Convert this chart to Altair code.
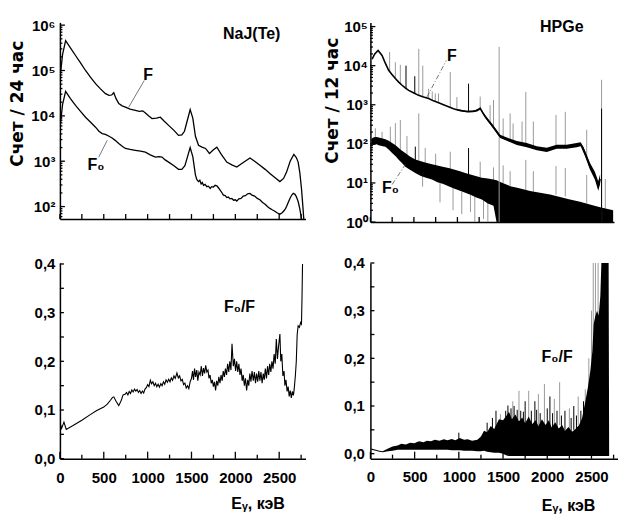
import altair as alt
import pandas as pd

FN = "Liberation Sans, Arial, sans-serif"
FT = "DejaVu Sans, Liberation Sans, sans-serif"
BLACK = "#000000"
GRAY = "#9a9a9a"

# ---------------- NaJ(Te) spectra (keV, counts / 24 h) ----------------
naj_f_e = [8, 30, 65, 120, 178, 235, 292, 350, 406, 460, 519, 560, 590, 614, 640, 671, 710, 747, 800, 860,
           905, 944, 975, 1010, 1050, 1100, 1145, 1190, 1239, 1300, 1352, 1390, 1420, 1450, 1485, 1515, 1545,
           1580, 1620, 1660, 1705, 1750, 1789, 1840, 1902, 1960, 2016, 2090, 2167, 2220, 2280, 2340, 2394, 2450,
           2508, 2550, 2584, 2625, 2667, 2695, 2716, 2735, 2754, 2770, 2785]
naj_f = [89000, 224000, 457000, 316000, 214000, 148000, 100000, 70800, 51300, 39800, 30900, 28200, 28800, 32400,
         24000, 18600, 16600, 15500, 14100, 13200, 12600, 12900, 11500, 10000, 8710, 8910, 9330, 7590, 6170, 4790,
         3720, 3800, 4570, 7590, 13800, 8910, 3550, 2240, 2040, 1910, 1480, 1780, 2040, 1410, 955, 832, 741, 933,
         1175, 1000, 813, 661, 537, 437, 355, 417, 575, 1000, 1410, 1200, 955, 562, 251, 100, 40]
naj_f0_e = [8, 30, 65, 120, 178, 235, 292, 350, 406, 445, 482, 519, 560, 595, 630, 671, 710, 747, 800, 860, 920,
            974, 1030, 1088, 1130, 1164, 1200, 1239, 1300, 1352, 1390, 1425, 1455, 1485, 1515, 1545, 1560, 1580,
            1595, 1610, 1623, 1637, 1655, 1675, 1693, 1713, 1730, 1750, 1770, 1789, 1805, 1825, 1845, 1864, 1885,
            1902, 1920, 1940, 1960, 1980, 2000, 2016, 2040, 2065, 2090, 2115, 2140, 2167, 2190, 2220, 2250, 2280,
            2310, 2340, 2365, 2394, 2420, 2450, 2480, 2508, 2530, 2550, 2570, 2584, 2605, 2625, 2645, 2660, 2680,
            2695, 2716, 2735, 2754, 2770]
naj_f0 = [7080, 17800, 34700, 24000, 17000, 12600, 9330, 7240, 5620, 4570, 4070, 3890, 3550, 3240, 2880, 2450,
          2140, 1910, 1820, 1740, 1660, 1580, 1380, 1230, 1260, 1230, 1070, 955, 794, 661, 661, 794, 1260, 2000,
          1260, 501, 398, 355, 380, 316, 339, 295, 309, 275, 282, 251, 275, 269, 295, 288, 263, 234, 204, 178,
          174, 158, 162, 148, 151, 138, 141, 132, 148, 151, 170, 174, 191, 195, 178, 170, 151, 141, 123, 112, 100,
          91, 85, 79, 72, 68, 72, 79, 89, 100, 126, 155, 182, 195, 186, 166, 129, 89, 55, 32]

# ---------------- NaJ(Te) ratio F0/F (keV, ratio) ----------------
naj_ratio = [
    (0, .075), (19, .062), (46, .075), (72, .060), (150, .068), (250, .079), (350, .091), (420, .099),
    (500, .106), (540, .112), (576, .120), (600, .126), (614, .127), (640, .118), (671, .109), (700, .120),
    (720, .131), (747, .133), (760, .136), (775, .131), (790, .138), (805, .134), (820, .141), (835, .137),
    (850, .143), (865, .139), (880, .142), (895, .136), (910, .140), (925, .134), (940, .139), (955, .135),
    (970, .143), (985, .146), (1000, .152), (1015, .148), (1031, .161), (1045, .154), (1060, .158),
    (1075, .150), (1090, .155), (1105, .148), (1120, .153), (1135, .147), (1150, .154), (1165, .150),
    (1180, .158), (1195, .153), (1210, .162), (1225, .157), (1240, .163), (1255, .158), (1270, .166),
    (1285, .161), (1300, .170), (1315, .165), (1334, .176), (1350, .166), (1365, .170), (1380, .160),
    (1395, .163), (1410, .152), (1425, .155), (1440, .145), (1455, .150), (1470, .144), (1485, .158),
    (1500, .165), (1512, .180), (1523, .162), (1535, .185), (1547, .168), (1560, .182), (1572, .160),
    (1585, .178), (1599, .172), (1612, .190), (1625, .170), (1637, .186), (1650, .175), (1662, .192),
    (1675, .178), (1688, .182), (1700, .165), (1712, .172), (1725, .155), (1737, .162), (1750, .148),
    (1762, .158), (1775, .140), (1787, .160), (1800, .150), (1812, .168), (1825, .155), (1837, .172),
    (1850, .160), (1862, .180), (1875, .168), (1887, .185), (1900, .172), (1912, .195), (1925, .178),
    (1937, .200), (1950, .182), (1962, .236), (1977, .190), (1990, .205), (2003, .180), (2015, .200),
    (2028, .178), (2040, .195), (2053, .172), (2065, .185), (2078, .160), (2090, .172), (2103, .150),
    (2115, .165), (2129, .140), (2141, .162), (2153, .150), (2165, .175), (2178, .158), (2190, .180),
    (2205, .160), (2217, .178), (2230, .155), (2242, .175), (2255, .158), (2267, .180), (2280, .160),
    (2292, .178), (2305, .155), (2318, .175), (2330, .162), (2342, .185), (2355, .165), (2367, .190),
    (2380, .172), (2392, .195), (2405, .178), (2417, .200), (2430, .185), (2442, .215), (2455, .195),
    (2467, .246), (2480, .205), (2492, .230), (2508, .256), (2518, .200), (2530, .215), (2542, .170),
    (2555, .180), (2565, .150), (2577, .162), (2590, .138), (2602, .148), (2614, .128), (2626, .140),
    (2638, .125), (2650, .138), (2662, .130), (2672, .145), (2684, .170), (2695, .200), (2705, .255),
    (2716, .273), (2730, .270), (2745, .280), (2754, .277), (2760, .330), (2766, .400)]

# ---------------- HPGe spectra (keV, counts / 12 h) ----------------
hp_f = [(19, 14800), (50, 20000), (88, 24500), (134, 18200), (170, 11750), (210, 7590), (250, 5890),
        (287, 4680), (325, 3800), (364, 3160), (400, 2690), (440, 2340), (500, 2000), (554, 1740), (610, 1580),
        (669, 1450), (725, 1260), (784, 1120), (840, 1000), (898, 891), (955, 794), (1013, 724), (1070, 692),
        (1128, 661), (1180, 676), (1224, 708), (1250, 759), (1262, 813), (1290, 631), (1319, 501), (1360, 380),
        (1396, 302), (1430, 240), (1453, 204), (1470, 178), (1491, 155), (1530, 141), (1568, 132), (1630, 117),
        (1683, 105), (1740, 98), (1797, 93), (1855, 85), (1912, 78), (1970, 74), (2027, 71), (2085, 78),
        (2141, 85), (2200, 83), (2256, 85), (2310, 89), (2371, 93), (2417, 98), (2440, 83), (2466, 58),
        (2495, 40), (2523, 27), (2550, 20), (2581, 15), (2605, 10.5), (2619, 8.3), (2630, 10), (2640, 12.6)]
# noisy envelope of F (keV, low, high)
hp_f_band = [(1000, 708, 776), (1100, 646, 708), (1200, 661, 724), (1262, 776, 851), (1319, 468, 537),
             (1396, 275, 331), (1453, 185, 224), (1491, 141, 170), (1568, 120, 145), (1683, 93, 118),
             (1797, 82, 105), (1912, 69, 87), (2027, 62, 80), (2141, 75, 95), (2256, 75, 95), (2371, 82, 105),
             (2417, 87, 110), (2466, 49, 68), (2523, 22, 33), (2581, 12, 19), (2619, 6.3, 11), (2640, 9.5, 16.6)]
# gamma lines on F (keV, from, to, shade)
hp_f_spikes = [(221, 7000, 22400, 'g'), (287, 4680, 12300, 'g'), (344, 3500, 10500, 'g'), (409, 2600, 10000, 'k'),
               (510, 1950, 5370, 'k'), (556, 1740, 26900, 'g'), (602, 1600, 10000, 'g'), (669, 1450, 2570, 'g'),
               (711, 1300, 2190, 'g'), (746, 1200, 1950, 'g'), (783, 1120, 1950, 'g'), (918, 860, 6920, 'g'),
               (994, 750, 1580, 'g'), (1128, 661, 3470, 'k'), (1262, 813, 1620, 'g'), (1376, 350, 977, 'g'),
               (1415, 270, 1320, 'g'), (1480, 1, 30200, 'g'), (1526, 141, 447, 'g'), (1606, 122, 603, 'g'),
               (1640, 115, 331, 'g'), (1743, 98, 372, 'g'), (1786, 93, 2140, 'g'), (1873, 83, 372, 'g'),
               (2133, 84, 550, 'g'), (2240, 85, 661, 'g'), (2486, 45, 229, 'g'), (2657, 1, 4370, 'g'),
               (2657, 1, 800, 'k')]
# noisy band of F0 (keV, low, high)
hp_f0_band = [(10, 95, 135), (40, 93, 148), (70, 98, 150), (96, 92, 145), (130, 88, 140), (172, 85, 132),
              (210, 72, 120), (249, 58, 105), (290, 48, 92), (325, 39, 78), (360, 33, 68), (401, 26, 58),
              (450, 22, 48), (516, 18, 40), (580, 15, 36), (640, 13.5, 33), (708, 12.3, 30), (770, 10.5, 28),
              (830, 9.5, 26), (898, 8.3, 24), (960, 7.2, 22), (1030, 6.3, 20), (1090, 5.6, 18), (1150, 5, 16.5),
              (1210, 4.3, 15), (1281, 3.8, 13.5), (1350, 3.0, 13), (1415, 2.6, 12.3), (1450, 1, 11.7),
              (1500, 1, 10.5), (1606, 1, 8.3), (1700, 1, 7.4), (1835, 1, 6.2), (1950, 1, 5.6), (2065, 1, 5.1),
              (2180, 1, 4.4), (2294, 1, 3.8), (2410, 1, 3.3), (2523, 1, 2.8), (2640, 1, 2.4), (2753, 1, 2.1),
              (2790, 1, 2.0)]
hp_f0_spikes = [(57, 130, 251, 'g'), (134, 130, 204, 'g'), (229, 100, 275, 'g'), (287, 80, 339, 'g'),
                (344, 65, 407, 'g'), (420, 50, 158, 'g'), (516, 35, 85, 'k'), (556, 35, 603, 'g'),
                (630, 30, 79, 'g'), (750, 26, 56, 'g'), (918, 22, 63, 'g'), (1128, 16, 78, 'k'),
                (1262, 14, 35, 'g'), (1415, 11, 25, 'g'), (1526, 10, 28, 'g'), (1606, 8, 20, 'g'),
                (1786, 6.5, 39, 'g'), (1873, 6, 20, 'g'), (2133, 5, 27, 'g'), (2240, 4.5, 24, 'g'),
                (2486, 3, 16, 'g'), (2700, 2, 12.6, 'g'), (600, 8, 15, 'g'), (800, 3.2, 10, 'g'),
                (950, 2, 8, 'g'), (1050, 1.6, 6, 'g'), (1150, 1.8, 5, 'g'), (1200, 1, 4.5, 'g'),
                (1300, 1.2, 4, 'g'), (1350, 1, 3.2, 'g')]

# ---------------- HPGe ratio F0/F (keV, low, high) ----------------
hp_ratio_band = [
    (10, .008, .011), (60, .006, .008), (101, .004, .006), (139, .003, .005), (200, .005, .011),
    (250, .006, .015), (308, .008, .017), (350, .008, .021), (400, .008, .019), (450, .008, .023),
    (496, .008, .022), (550, .008, .026), (600, .008, .024), (640, .008, .027), (684, .008, .026),
    (730, .008, .029), (780, .008, .027), (830, .008, .030), (872, .008, .028), (920, .007, .031),
    (960, .007, .028), (1010, .007, .033), (1060, .006, .029), (1100, .006, .030), (1150, .006, .027),
    (1210, .005, .029), (1250, .005, .036), (1285, .006, .048), (1320, .004, .045), (1360, .003, .058),
    (1400, .002, .052), (1454, .002, .072), (1500, .0, .070), (1540, -.004, .080), (1567, -.005, .088),
    (1600, -.005, .072), (1640, -.005, .082), (1680, -.005, .068), (1717, -.005, .076), (1750, -.005, .064),
    (1790, -.005, .078), (1830, -.005, .062), (1868, -.005, .070), (1900, -.005, .058), (1940, -.005, .072),
    (1980, -.005, .060), (2018, -.005, .070), (2050, -.005, .055), (2090, -.005, .066), (2130, -.005, .053),
    (2168, -.005, .060), (2200, -.005, .048), (2240, -.005, .056), (2280, -.005, .046), (2319, -.005, .052),
    (2360, -.005, .060), (2394, -.005, .075), (2431, -.005, .110), (2460, -.005, .140), (2488, -.005, .175),
    (2510, -.005, .215), (2525, -.005, .272), (2545, -.005, .290), (2563, -.005, .300), (2582, -.005, .290),
    (2600, -.005, .330), (2612, -.005, .400), (2694, -.005, .400), (2700, -.005, -.005)]
hp_ratio_spikes = [(1000, .02, .044, 'k'), (1320, .03, .065, 'k'), (1380, .04, .075, 'k'), (1420, .05, .09, 'k'),
                   (1470, .06, .083, 'g'), (1530, .06, .09, 'k'), (1555, .05, .101, 'k'), (1590, .05, .095, 'k'),
                   (1610, .07, .11, 'g'), (1625, .05, .10, 'k'), (1660, .05, .092, 'k'), (1680, .07, .132, 'g'),
                   (1700, .05, .09, 'k'), (1730, .05, .088, 'k'), (1750, .06, .11, 'k'), (1790, .07, .132, 'g'),
                   (1820, .05, .09, 'k'), (1860, .06, .11, 'k'), (1880, .05, .092, 'k'), (1900, .06, .125, 'g'),
                   (1920, .05, .085, 'k'), (1968, .06, .146, 'g'), (2000, .05, .095, 'k'), (2030, .06, .12, 'k'),
                   (2060, .05, .085, 'k'), (2080, .06, .115, 'g'), (2110, .05, .09, 'k'), (2140, .06, .150, 'g'),
                   (2160, .04, .08, 'k'), (2200, .05, .09, 'k'), (2250, .05, .095, 'g'), (2270, .04, .075, 'k'),
                   (2300, .05, .10, 'k'), (2330, .04, .08, 'k'), (2350, .06, .12, 'g'), (2380, .05, .09, 'k'),
                   (2410, .06, .11, 'k'), (2430, .09, .135, 'g'), (2470, .12, .20, 'g'), (2500, .15, .30, 'g'),
                   (2520, .2, .4, 'g'), (2545, .25, .4, 'g'), (2575, .25, .4, 'g')]

# ---------------- ticks ----------------
e_ticks_all = [0, 250, 500, 750, 1000, 1250, 1500, 1750, 2000, 2250, 2500, 2750]
e_labels = [0, 500, 1000, 1500, 2000, 2500]
e_ticks_minor = [250, 750, 1250, 1750, 2250, 2750]
naj_decades = [100, 1000, 10000, 100000, 1000000]
naj_minor = [60, 70, 80, 90, 200, 300, 400, 500, 600, 700, 800, 900, 2000, 3000, 4000, 5000, 6000, 7000, 8000,
             9000, 20000, 30000, 40000, 50000, 60000, 70000, 80000, 90000, 200000, 300000, 400000, 500000,
             600000, 700000, 800000, 900000]
hp_decades = [1, 10, 100, 1000, 10000, 100000]
hp_minor = [2, 3, 4, 5, 6, 7, 8, 9, 20, 30, 40, 50, 60, 70, 80, 90, 200, 300, 400, 500, 600, 700, 800, 900,
            2000, 3000, 4000, 5000, 6000, 7000, 8000, 9000, 20000, 30000, 40000, 50000, 60000, 70000, 80000, 90000]
ratio_labels = [0, 0.1, 0.2, 0.3, 0.4]
ratio_ticks = [0, 0.05, 0.1, 0.15, 0.2, 0.25, 0.3, 0.35, 0.4]

# ---------------- annotations (data coordinates) ----------------
naj_notes = [(951, 77600, 'F'), (315, 813, 'F₀'), (1860, 645000, 'NaJ(Te)')]
naj_leaders = [(0, 784, 15500), (0, 962, 60300), (1, 539, 2880), (1, 443, 1230)]
hp_notes = [(880, 17400, 'F'), (134, 7.5, 'F₀'), (1950, 97700, 'HPGe')]
hp_leaders = [(0, 650, 1585), (0, 872, 13500), (1, 401, 29.5), (1, 249, 9.1)]
naj_ratio_note = [(1870, 0.312, 'F₀/F')]
hp_ratio_note = [(1936, 0.202, 'F₀/F')]

SUP = ("'10' + ['\u2070','\u00b9','\u00b2','\u00b3','\u2074','\u2075','\u2076']"
       "[round(log(datum.value)/LN10)]")
COMMA = "replace(datum.label, '.', ',')"


def frame(rows, cols):
    return pd.DataFrame(rows, columns=cols)


def ax_main(orient, **kw):
    base = dict(orient=orient, ticks=False, tickSize=0, domain=True, grid=False)
    base.update(kw)
    return alt.Axis(**base)


xs = alt.Scale(domain=[0, 2800], nice=False, zero=False)


def xticks(vals, h, size):
    # inward ticks on the bottom axis, placed by the x scale
    return alt.Chart(pd.DataFrame({'t': vals})).mark_rule(color=BLACK, strokeWidth=1.3).encode(
        x=alt.X('t:Q', scale=xs, axis=None), y=alt.value(h), y2=alt.value(h - size))


def yticks(vals, ys, size):
    # inward ticks on the left axis, placed by the y scale
    return alt.Chart(pd.DataFrame({'t': vals})).mark_rule(color=BLACK, strokeWidth=1.3).encode(
        y=alt.Y('t:Q', scale=ys, axis=None), x=alt.value(0), x2=alt.value(size))


def panel(layers, w, h):
    return alt.layer(*layers).resolve_axis(x='independent', y='independent').properties(width=w, height=h)


shade = alt.Color('s:N', scale=alt.Scale(domain=['k', 'g'], range=[BLACK, GRAY]), legend=None)

text_kw = dict(align='left', baseline='middle', font=FN, fontSize=16, fontWeight='bold', color=BLACK)
ytitle_kw = dict(titleAngle=270, titleAlign='center', titleBaseline='middle', titleFont=FT,
                 titleFontSize=17, titleFontWeight='bold', titleColor=BLACK)
xtitle_kw = dict(titleAlign='center', titleBaseline='middle', titleFont=FN, titleFontSize=16,
                 titleFontWeight='bold', titleColor=BLACK)

# ======================= top-left: NaJ(Te) spectra =======================
H_TL = 197
ys_tl = alt.Scale(type='log', domain=[53, 1150000], nice=False)
tl_f = alt.Chart(pd.DataFrame({'e': naj_f_e, 'c': naj_f})).mark_line(
    color=BLACK, strokeWidth=1.3, clip=True).encode(
    x=alt.X('e:Q', scale=xs, axis=ax_main('bottom', labels=False, title=None)),
    y=alt.Y('c:Q', scale=ys_tl, axis=ax_main('left', values=naj_decades, labelExpr=SUP, labelPadding=5,
                                            title='Счет / 24 час', titleX=-42, titleY=81, **ytitle_kw)))
tl_f0 = alt.Chart(pd.DataFrame({'e': naj_f0_e, 'c': naj_f0})).mark_line(
    color=BLACK, strokeWidth=1.3, clip=True).encode(
    x=alt.X('e:Q', scale=xs, axis=None), y=alt.Y('c:Q', scale=ys_tl, axis=None))
tl_lead = alt.Chart(frame(naj_leaders, ['id', 'e', 'c'])).mark_line(
    color='#555555', strokeWidth=0.8).encode(
    x=alt.X('e:Q', scale=xs, axis=None), y=alt.Y('c:Q', scale=ys_tl, axis=None), detail='id:N')
tl_text = alt.Chart(frame(naj_notes, ['e', 'c', 't'])).mark_text(**text_kw).encode(
    x=alt.X('e:Q', scale=xs, axis=None), y=alt.Y('c:Q', scale=ys_tl, axis=None), text='t:N')
TL = panel([tl_f, tl_f0, tl_lead, tl_text,
            xticks(e_ticks_all, H_TL, 5), yticks(naj_decades, ys_tl, 5), yticks(naj_minor, ys_tl, 2.5)],
           246, H_TL)

# ======================= top-right: HPGe spectra =======================
H_TR = 200
ys_tr = alt.Scale(type='log', domain=[1, 128000], nice=False)
tr_f = alt.Chart(frame(hp_f, ['e', 'c'])).mark_line(color=BLACK, strokeWidth=1.6, clip=True).encode(
    x=alt.X('e:Q', scale=xs, axis=ax_main('bottom', labels=False, title=None)),
    y=alt.Y('c:Q', scale=ys_tr, axis=ax_main('left', values=hp_decades, labelExpr=SUP, labelPadding=3,
                                            title='Счет / 12 час', titleX=-38, titleY=78, **ytitle_kw)))
tr_f0_sp = alt.Chart(frame(hp_f0_spikes, ['e', 'lo', 'hi', 's'])).mark_rule(strokeWidth=1, clip=True).encode(
    x=alt.X('e:Q', scale=xs, axis=None), y=alt.Y('lo:Q', scale=ys_tr, axis=None), y2='hi:Q', color=shade)
tr_f0 = alt.Chart(frame(hp_f0_band, ['e', 'lo', 'hi'])).mark_area(color=BLACK, clip=True).encode(
    x=alt.X('e:Q', scale=xs, axis=None), y=alt.Y('lo:Q', scale=ys_tr, axis=None), y2='hi:Q')
tr_f_sp = alt.Chart(frame(hp_f_spikes, ['e', 'lo', 'hi', 's'])).mark_rule(strokeWidth=1, clip=True).encode(
    x=alt.X('e:Q', scale=xs, axis=None), y=alt.Y('lo:Q', scale=ys_tr, axis=None), y2='hi:Q', color=shade)
tr_fb = alt.Chart(frame(hp_f_band, ['e', 'lo', 'hi'])).mark_area(color=BLACK, clip=True).encode(
    x=alt.X('e:Q', scale=xs, axis=None), y=alt.Y('lo:Q', scale=ys_tr, axis=None), y2='hi:Q')
tr_lead = alt.Chart(frame(hp_leaders, ['id', 'e', 'c'])).mark_line(
    color='#555555', strokeWidth=0.8, strokeDash=[5, 2, 1, 2]).encode(
    x=alt.X('e:Q', scale=xs, axis=None), y=alt.Y('c:Q', scale=ys_tr, axis=None), detail='id:N')
tr_text = alt.Chart(frame(hp_notes, ['e', 'c', 't'])).mark_text(**text_kw).encode(
    x=alt.X('e:Q', scale=xs, axis=None), y=alt.Y('c:Q', scale=ys_tr, axis=None), text='t:N')
TR = panel([tr_f0_sp, tr_f0, tr_f_sp, tr_fb, tr_f, tr_lead, tr_text,
            xticks(e_ticks_all, H_TR, 5), yticks(hp_decades, ys_tr, 5), yticks(hp_minor, ys_tr, 2.5)],
           244, H_TR)

# ======================= bottom-left: NaJ ratio =======================
H_B = 196
ys_bl = alt.Scale(domain=[0, 0.402], nice=False, zero=False)
bl_line = alt.Chart(frame(naj_ratio, ['e', 'v'])).mark_line(color=BLACK, strokeWidth=1.1, clip=True).encode(
    x=alt.X('e:Q', scale=xs, axis=ax_main('bottom', values=e_labels, format='d', labelPadding=12,
                                          title='Eᵧ, кэВ', titleX=198, titleY=45, **xtitle_kw)),
    y=alt.Y('v:Q', scale=ys_bl, axis=ax_main('left', values=ratio_labels, format='.1f', labelExpr=COMMA,
                                            labelPadding=5, title=None)))
bl_text = alt.Chart(frame(naj_ratio_note, ['e', 'v', 't'])).mark_text(**text_kw).encode(
    x=alt.X('e:Q', scale=xs, axis=None), y=alt.Y('v:Q', scale=ys_bl, axis=None), text='t:N')
BL = panel([bl_line, bl_text,
            xticks(e_labels, H_B, 7), xticks(e_ticks_minor, H_B, 4), yticks(ratio_ticks, ys_bl, 4)],
           246, H_B)

# ======================= bottom-right: HPGe ratio =======================
ys_br = alt.Scale(domain=[-0.0105, 0.4], nice=False, zero=False)
br_band = alt.Chart(frame(hp_ratio_band, ['e', 'lo', 'hi'])).mark_area(color=BLACK, clip=True).encode(
    x=alt.X('e:Q', scale=xs, axis=ax_main('bottom', values=e_labels, format='d', labelPadding=11,
                                          title='Eᵧ, кэВ', titleX=198, titleY=47, **xtitle_kw)),
    y=alt.Y('lo:Q', scale=ys_br, axis=ax_main('left', values=ratio_labels, format='.1f', labelExpr=COMMA,
                                             labelPadding=6, title=None)), y2='hi:Q')
br_sp = alt.Chart(frame(hp_ratio_spikes, ['e', 'lo', 'hi', 's'])).mark_rule(strokeWidth=1, clip=True).encode(
    x=alt.X('e:Q', scale=xs, axis=None), y=alt.Y('lo:Q', scale=ys_br, axis=None), y2='hi:Q', color=shade)
br_text = alt.Chart(frame(hp_ratio_note, ['e', 'v', 't'])).mark_text(**text_kw).encode(
    x=alt.X('e:Q', scale=xs, axis=None), y=alt.Y('v:Q', scale=ys_br, axis=None), text='t:N')
BR = panel([br_sp, br_band, br_text,
            xticks(e_labels, H_B, 7), xticks(e_ticks_minor, H_B, 4), yticks(ratio_ticks, ys_br, 4)],
           248, H_B)

chart = alt.concat(TL, TR, BL, BR, columns=2, spacing={'row': 41, 'column': 65}, bounds='flush').properties(
    padding={'left': 1, 'top': 9, 'right': 0, 'bottom': 0}
).configure_view(stroke=None).configure_axis(
    domainColor=BLACK, domainWidth=1.5, labelColor=BLACK,
    labelFont=FN, labelFontSize=15, labelFontWeight='bold', grid=False, labelFlush=False,
    labelOverlap=False)

chart.save("out.html", embed_options={"renderer": "svg", "actions": False})
